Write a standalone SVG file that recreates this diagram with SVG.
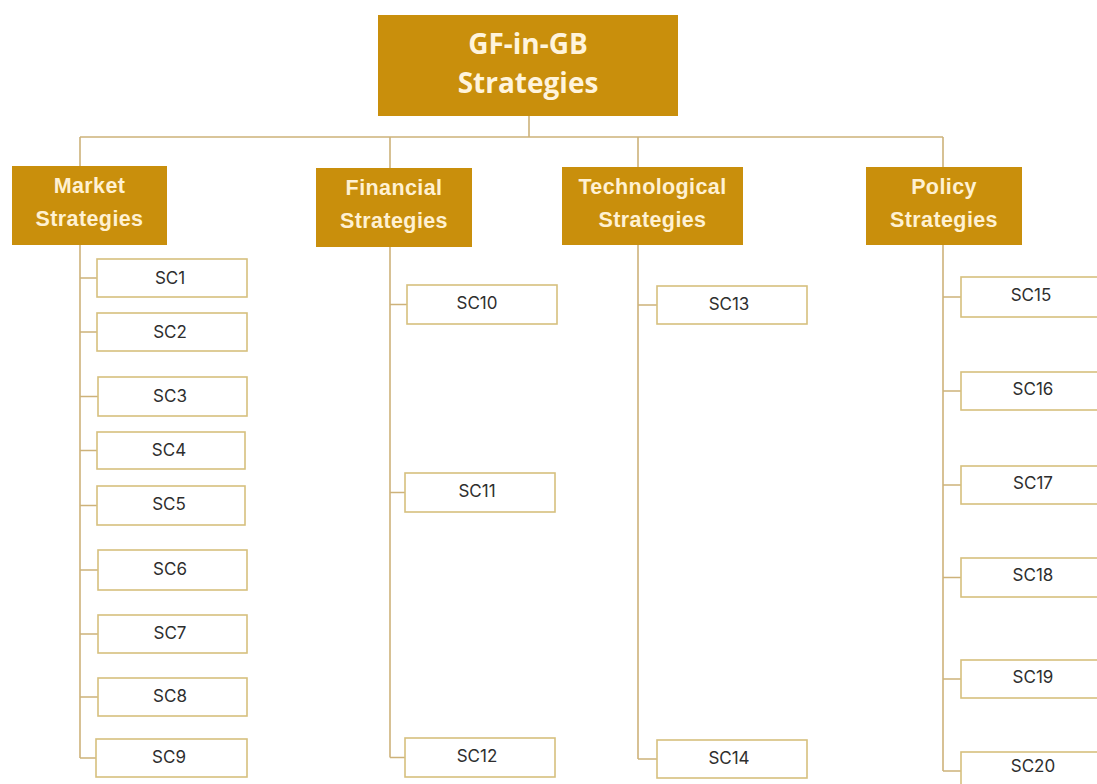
<svg xmlns="http://www.w3.org/2000/svg" width="1097" height="784" viewBox="0 0 1097 784">
  <style>
    .root { fill: #C98F0C; }
    .cat { fill: #C98F0C; }
    .leaf { fill: #FFFFFF; stroke: #D6C07E; stroke-width: 1.6; }
    .rootText { font-family: "Open Sans", "Liberation Sans", sans-serif; font-weight: 700; font-size: 28px; fill: #FFF4DC; text-anchor: middle; }
    .catText { font-family: "Liberation Sans", Arial, sans-serif; font-weight: 700; font-size: 21.5px; letter-spacing: 0.4px; fill: #FFF1D2; text-anchor: middle; }
    .leafText { font-family: Inter, "Liberation Sans", sans-serif; font-weight: 400; font-size: 17px; fill: #2E2E2E; text-anchor: middle; }
    .conn { fill: none; stroke: #CDB27A; stroke-width: 1.6; }
  </style>

  <!-- connectors -->
  <g id="connectors" class="conn">
    <!-- root to category bus -->
    <path d="M529 116 V137 M80 137 H943"/>
    <path d="M80 137 V166 M390 137 V168 M638 137 V167 M943 137 V167"/>
    <!-- market spine and stubs -->
    <path d="M80 245 V758"/>
    <path d="M80 278 H97 M80 332 H97 M80 396.5 H98 M80 450.5 H97 M80 505.5 H97 M80 570 H98 M80 634 H98 M80 697 H98 M80 758 H96"/>
    <!-- financial spine and stubs -->
    <path d="M390 247 V757.5"/>
    <path d="M390 304.5 H407 M390 492.5 H405 M390 757.5 H405"/>
    <!-- technological spine and stubs -->
    <path d="M638 245 V759"/>
    <path d="M638 305 H657 M638 759 H657"/>
    <!-- policy spine and stubs -->
    <path d="M943 245 V771"/>
    <path d="M943 297 H961 M943 391 H961 M943 485 H961 M943 577.5 H961 M943 679 H961 M943 771 H961"/>
  </g>

  <!-- root -->
  <g id="root">
    <rect class="root" x="378" y="15" width="300" height="101"/>
    <text class="rootText" x="528" y="54">GF-in-GB</text>
    <text class="rootText" x="528" y="93">Strategies</text>
  </g>

  <!-- categories -->
  <g id="market">
    <rect class="cat" x="12" y="166" width="155" height="79"/>
    <text class="catText" x="89.5" y="193">Market</text>
    <text class="catText" x="89.5" y="226">Strategies</text>
  </g>
  <g id="financial">
    <rect class="cat" x="316" y="168" width="156" height="79"/>
    <text class="catText" x="394" y="195">Financial</text>
    <text class="catText" x="394" y="228">Strategies</text>
  </g>
  <g id="technological">
    <rect class="cat" x="562" y="167" width="181" height="78"/>
    <text class="catText" x="652.5" y="194">Technological</text>
    <text class="catText" x="652.5" y="227">Strategies</text>
  </g>
  <g id="policy">
    <rect class="cat" x="866" y="167" width="156" height="78"/>
    <text class="catText" x="944" y="194">Policy</text>
    <text class="catText" x="944" y="227">Strategies</text>
  </g>

  <!-- market leaves -->
  <g id="sc1"><rect class="leaf" x="97" y="259" width="150" height="38"/><text class="leafText" x="170" y="284">SC1</text></g>
  <g id="sc2"><rect class="leaf" x="97" y="313" width="150" height="38"/><text class="leafText" x="170" y="338">SC2</text></g>
  <g id="sc3"><rect class="leaf" x="98" y="377" width="149" height="39"/><text class="leafText" x="170" y="402">SC3</text></g>
  <g id="sc4"><rect class="leaf" x="97" y="432" width="148" height="37"/><text class="leafText" x="169" y="456">SC4</text></g>
  <g id="sc5"><rect class="leaf" x="97" y="486" width="148" height="39"/><text class="leafText" x="169" y="510">SC5</text></g>
  <g id="sc6"><rect class="leaf" x="98" y="550" width="149" height="40"/><text class="leafText" x="170" y="575">SC6</text></g>
  <g id="sc7"><rect class="leaf" x="98" y="615" width="149" height="38"/><text class="leafText" x="170" y="639">SC7</text></g>
  <g id="sc8"><rect class="leaf" x="98" y="678" width="149" height="38"/><text class="leafText" x="170" y="702">SC8</text></g>
  <g id="sc9"><rect class="leaf" x="96" y="739" width="151" height="38"/><text class="leafText" x="169" y="763">SC9</text></g>

  <!-- financial leaves -->
  <g id="sc10"><rect class="leaf" x="407" y="285" width="150" height="39"/><text class="leafText" x="477" y="309">SC10</text></g>
  <g id="sc11"><rect class="leaf" x="405" y="473" width="150" height="39"/><text class="leafText" x="477" y="497">SC11</text></g>
  <g id="sc12"><rect class="leaf" x="405" y="738" width="150" height="39"/><text class="leafText" x="477" y="762">SC12</text></g>

  <!-- technological leaves -->
  <g id="sc13"><rect class="leaf" x="657" y="286" width="150" height="38"/><text class="leafText" x="729" y="310">SC13</text></g>
  <g id="sc14"><rect class="leaf" x="657" y="740" width="150" height="38"/><text class="leafText" x="729" y="764">SC14</text></g>

  <!-- policy leaves -->
  <g id="sc15"><rect class="leaf" x="961" y="277" width="150" height="40"/><text class="leafText" x="1031" y="301">SC15</text></g>
  <g id="sc16"><rect class="leaf" x="961" y="372" width="150" height="38"/><text class="leafText" x="1033" y="395">SC16</text></g>
  <g id="sc17"><rect class="leaf" x="961" y="466" width="150" height="38"/><text class="leafText" x="1033" y="489">SC17</text></g>
  <g id="sc18"><rect class="leaf" x="961" y="558" width="150" height="39"/><text class="leafText" x="1033" y="581">SC18</text></g>
  <g id="sc19"><rect class="leaf" x="961" y="660" width="150" height="38"/><text class="leafText" x="1033" y="683">SC19</text></g>
  <g id="sc20"><rect class="leaf" x="961" y="752" width="150" height="40"/><text class="leafText" x="1033" y="772">SC20</text></g>
</svg>
